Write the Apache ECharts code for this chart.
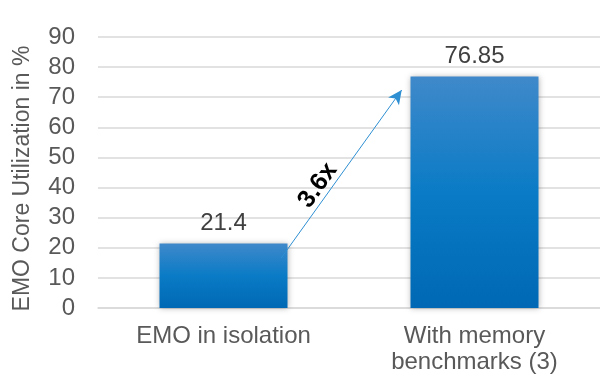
<!DOCTYPE html>
<html>
<head>
<meta charset="utf-8">
<script src="https://cdn.jsdelivr.net/npm/echarts@6/dist/echarts.min.js"></script>
<style>
  html, body { margin: 0; padding: 0; background: #fff; }
  #chart { width: 600px; height: 377px; }
</style>
</head>
<body>
<div id="chart"></div>
<script>
// data
var categories = ['EMO in isolation', 'With memory\nbenchmarks (3)'];
var utilization = [21.4, 76.85];
var yMin = 0, yMax = 90, yStep = 10;
// arrow between the bars, in (band position, value) units
var arrowFrom = [0.73, 16.6];
var arrowTo = [1.21, 72.4];
var arrowText = '3.6x';

var font = 'Liberation Sans, Arial, sans-serif';
var chart = echarts.init(document.getElementById('chart'));
chart.setOption({
    animation: false,
    grid: { left: 98, right: 0, top: 37, bottom: 69 },
    xAxis: [{
        type: 'category',
        data: categories,
        axisLine: { lineStyle: { color: '#d9d9d9', width: 1.5 } },
        axisTick: { show: false },
        axisLabel: { color: '#595959', fontSize: 24, fontFamily: font, margin: 15, lineHeight: 26 }
    }, {
        type: 'value', min: 0, max: 2, show: false
    }],
    yAxis: {
        type: 'value',
        min: yMin, max: yMax, interval: yStep,
        name: 'EMO Core Utilization in %',
        nameLocation: 'middle',
        nameGap: 64,
        nameTextStyle: { color: '#595959', fontSize: 23, fontFamily: font, padding: [0, 12, 0, 0] },
        axisLine: { show: false },
        axisTick: { show: false },
        axisLabel: { color: '#595959', fontSize: 24, fontFamily: font, margin: 23 },
        splitLine: { lineStyle: { color: '#d9d9d9', width: 1.5 } }
    },
    series: [{
        type: 'bar',
        data: utilization,
        barWidth: 128,
        itemStyle: {
            color: new echarts.graphic.LinearGradient(0, 0, 0, 1, [
                { offset: 0, color: '#3f89ca' },
                { offset: 0.5, color: '#0a7bc6' },
                { offset: 1, color: '#0068b4' }
            ]),
            shadowBlur: 6,
            shadowColor: 'rgba(0,0,0,0.3)'
        },
        label: {
            show: true, position: 'top', distance: 8,
            color: '#404040', fontSize: 24, fontFamily: font
        }
    }, {
        type: 'line',
        xAxisIndex: 1,
        data: [],
        markLine: {
            silent: true,
            symbol: ['none', 'arrow'],
            symbolSize: [10, 14],
            lineStyle: { color: '#2e8fd2', width: 1, type: 'solid' },
            label: {
                show: true, position: 'insideMiddleTop', distance: 0,
                padding: [0, 46, 0, 0],
                formatter: arrowText,
                color: '#000', fontSize: 25, fontWeight: 'bold', fontFamily: font
            },
            data: [[{ coord: arrowFrom }, { coord: arrowTo }]]
        }
    }]
});
</script>
</body>
</html>
